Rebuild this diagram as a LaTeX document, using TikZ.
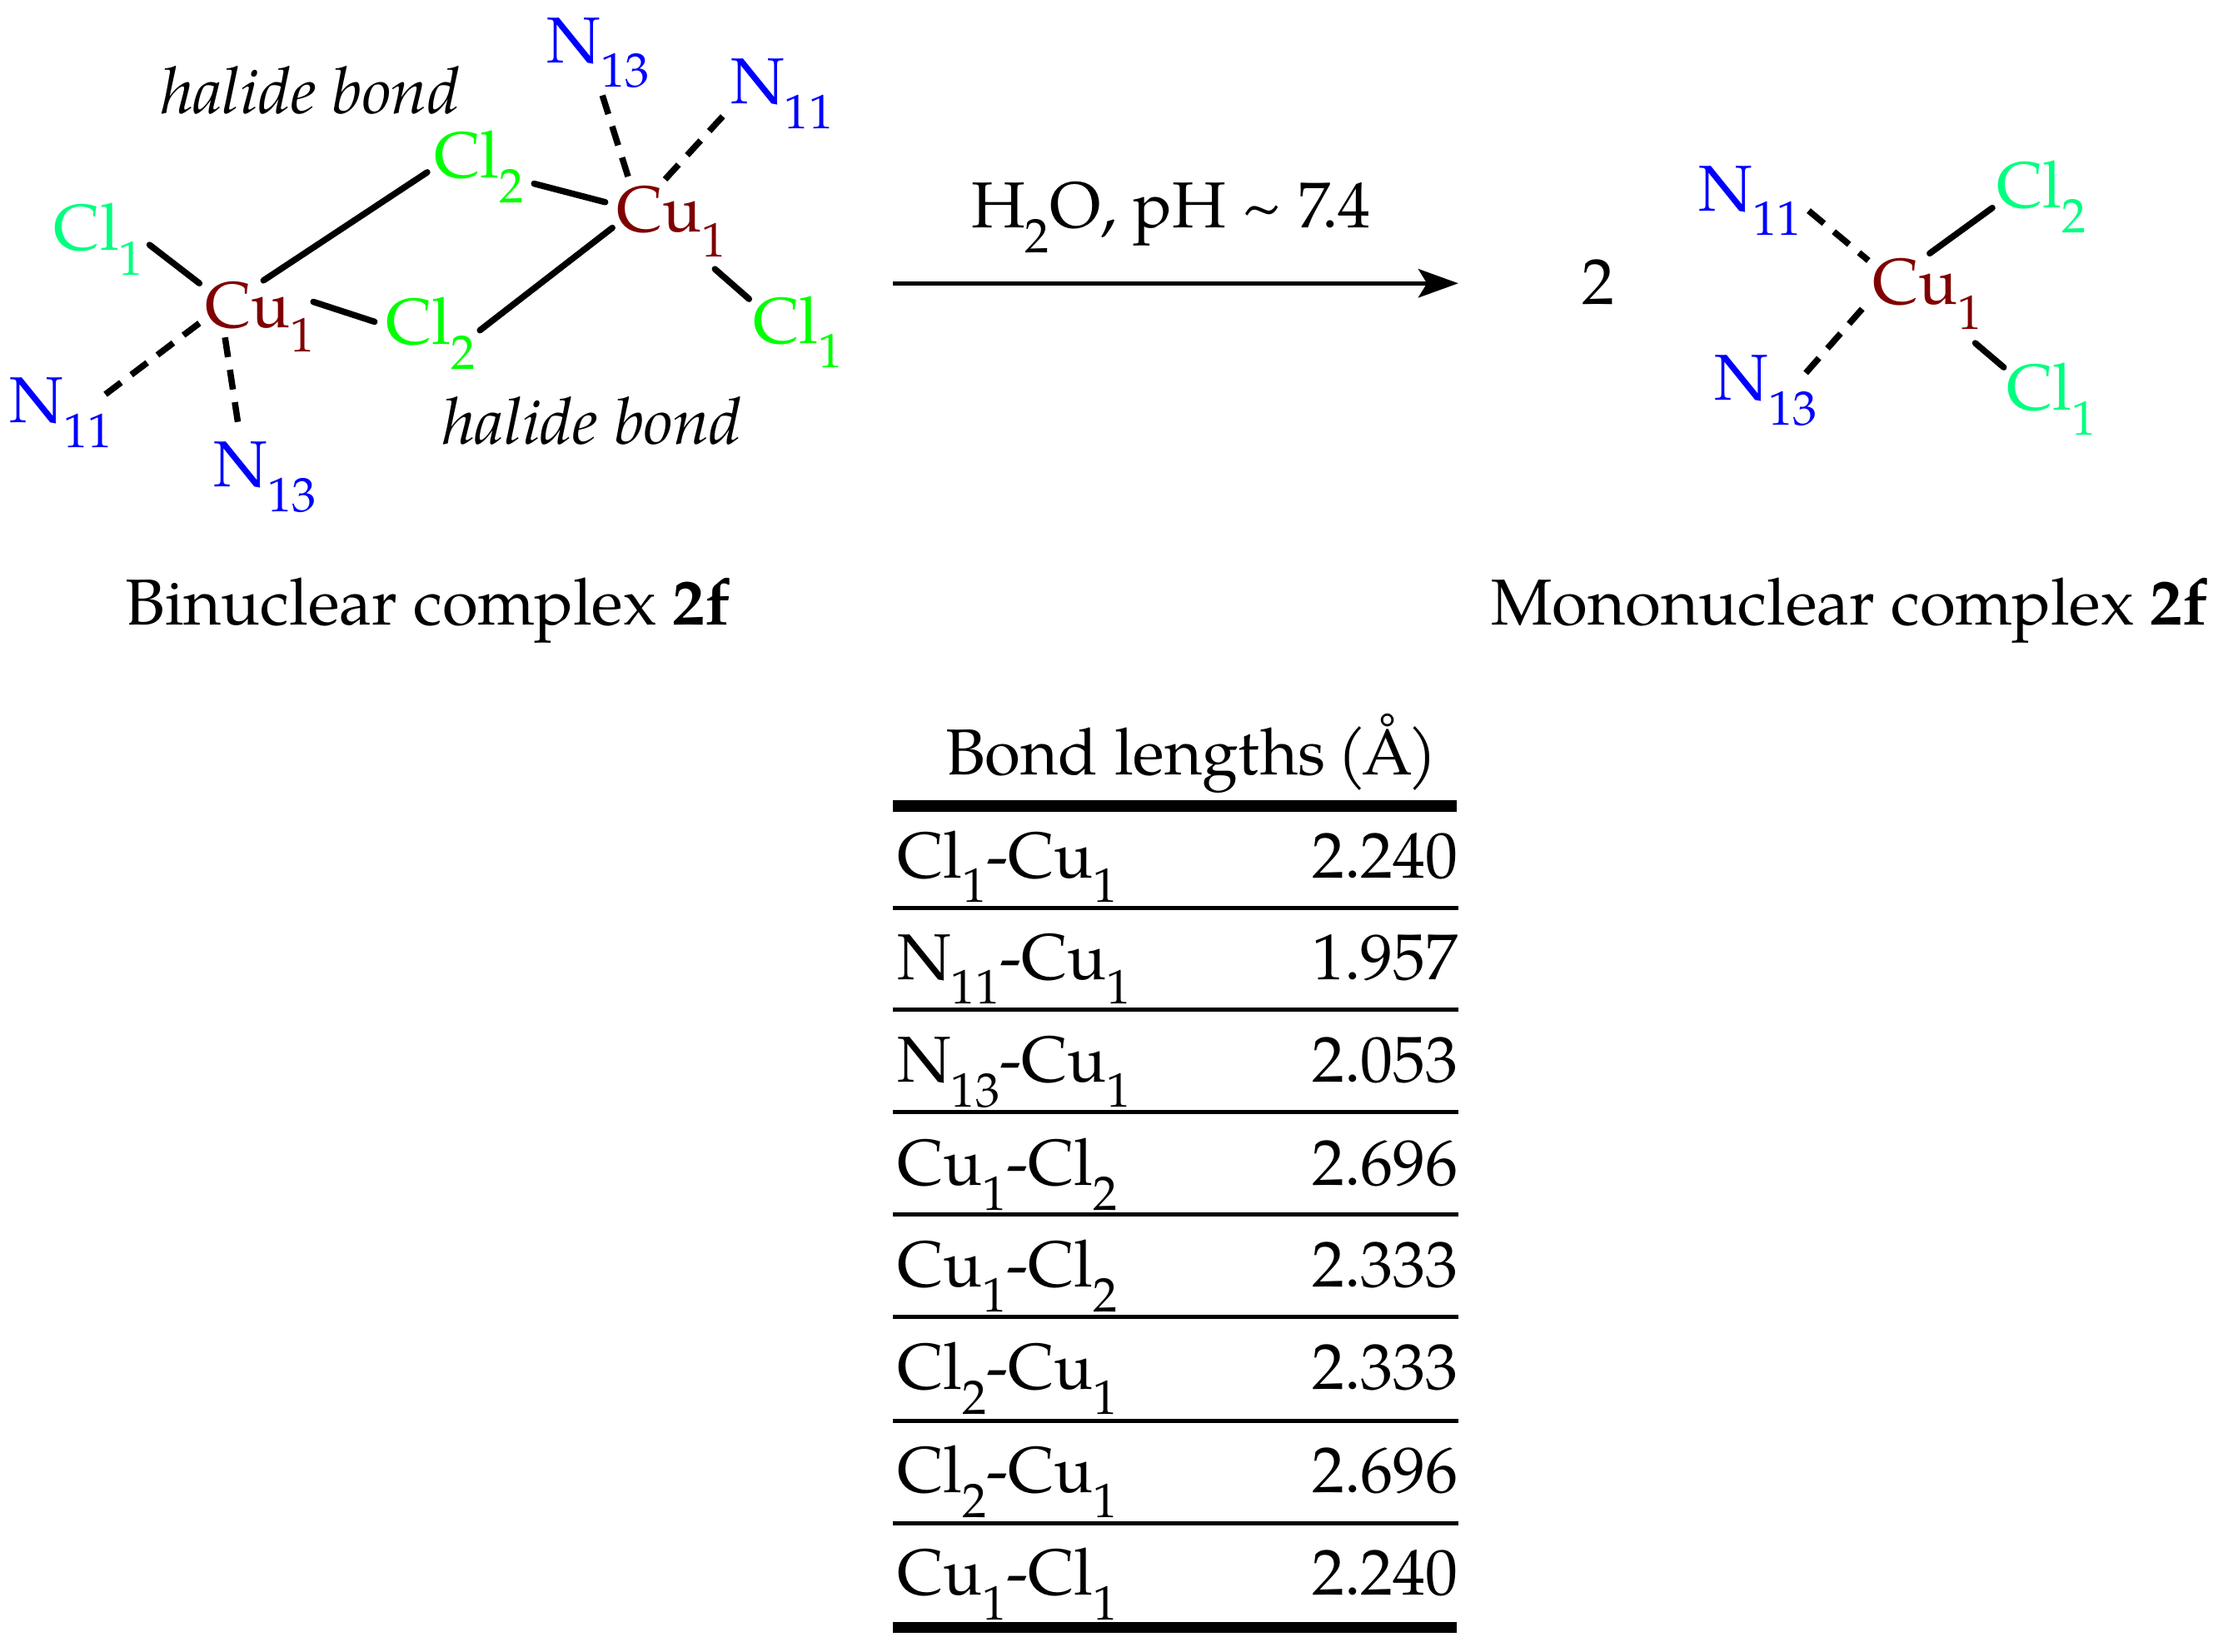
\documentclass[tikz,border=0pt]{standalone}
\usepackage{fontspec}
\setmainfont{TeX Gyre Pagella}
\usepackage{xcolor}
\definecolor{CopperRed}{HTML}{800000}
\definecolor{NitrogenBlue}{HTML}{0000FF}
\definecolor{ChlorineLime}{HTML}{00FF00}
\definecolor{ChlorineSpring}{HTML}{00FF80}
\usetikzlibrary{arrows.meta}
\newcommand{\lowsub}[1]{\raisebox{-0.38em}{\fontsize{17}{17}\selectfont #1}}
\tikzset{
  % Text styles
  atomlabel/.style={anchor=base west, inner sep=0pt, outer sep=0pt, font=\fontsize{22.8}{25}\selectfont},
  plainlabel/.style={anchor=base west, inner sep=0pt, outer sep=0pt, font=\fontsize{22.8}{25}\selectfont},
  copperatom/.style={atomlabel, text=CopperRed},
  nitrogenatom/.style={atomlabel, text=NitrogenBlue},
  limeatom/.style={atomlabel, text=ChlorineLime},
  springatom/.style={atomlabel, text=ChlorineSpring},
  valuelabel/.style={anchor=base east, inner sep=0pt, outer sep=0pt, font=\fontsize{22.8}{25}\selectfont},
  % Line styles
  bond/.style={line width=2.2pt, line cap=round},
  dashedbond/.style={bond, line cap=butt, dash pattern=on 7pt off 4.5pt},
  reactionarrow/.style={-{Stealth[length=14pt,width=10pt,inset=3pt]}, line width=1.6pt},
  thickrule/.style={line width=4pt},
  thinrule/.style={line width=1.4pt}
}
\begin{document}
\begin{tikzpicture}[x=0.5pt,y=-0.5pt]
  \useasboundingbox (0,0) rectangle (1568,1160.3);

  % Binuclear complex
  \node[copperatom] (culeft) at (144,230) {Cu\lowsub{1}};
  \node[copperatom] (curight) at (433,163) {Cu\lowsub{1}};
  \node[springatom] (clleft) at (38,176) {Cl\lowsub{1}};
  \node[limeatom] (clright) at (529,241) {Cl\lowsub{1}};
  \node[limeatom] (cltop) at (305,125) {Cl\lowsub{2}};
  \node[limeatom] (cllow) at (271,242) {Cl\lowsub{2}};
  \node[nitrogenatom] (nelevenleft) at (7,297) {N\lowsub{11}};
  \node[nitrogenatom] (nthirteenleft) at (150,342) {N\lowsub{13}};
  \node[nitrogenatom] (nelevenright) at (513,73) {N\lowsub{11}};
  \node[nitrogenatom] (nthirteenright) at (384,44) {N\lowsub{13}};
  \node[plainlabel] (halidetop) at (113,80) {\itshape halide bond};
  \node[plainlabel] (halidelow) at (311,312) {\itshape halide bond};
  \node[plainlabel] (binuclear) at (88,439) {Binuclear complex \textbf{2f}};

  % Bonds of the binuclear complex
  \draw[bond] ([shift={(67,-4)}]clleft.base west) -- ([shift={(-4,-31)}]culeft.base west);
  \draw[bond] ([shift={(41,-33)}]culeft.base west) -- ([shift={(-5,-4)}]cltop.base west);
  \draw[bond] ([shift={(70,4)}]cltop.base west) -- ([shift={(-8,-21)}]curight.base west);
  \draw[bond] ([shift={(-3,-3)}]curight.base west) -- ([shift={(66,-10)}]cllow.base west);
  \draw[bond] ([shift={(76,-18)}]culeft.base west) -- ([shift={(-8,-16)}]cllow.base west);
  \draw[bond] ([shift={(69,26)}]curight.base west) -- ([shift={(-3,-31)}]clright.base west);
  \draw[dashedbond] ([shift={(8,-39)}]curight.base west) -- ([shift={(39,23)}]nthirteenright.base west);
  \draw[dashedbond] ([shift={(34,-37)}]curight.base west) -- ([shift={(-3,6)}]nelevenright.base west);
  \draw[dashedbond] ([shift={(-4,-3)}]culeft.base west) -- ([shift={(67,-20)}]nelevenleft.base west);
  \draw[dashedbond] ([shift={(14,7)}]culeft.base west) -- ([shift={(18,-39)}]nthirteenleft.base west);

  % Reaction arrow
  \coordinate (arrowstart) at (627,199);
  \coordinate (arrowend) at (1024,199);
  \draw[reactionarrow] (arrowstart) -- (arrowend);
  \node[plainlabel] (conditions) at (682,160) {H\lowsub{2}O, pH \textasciitilde{} 7\kern-0.13em.4};
  \node[plainlabel] (twice) at (1111,214) {2};

  % Mononuclear complex
  \node[copperatom] (cumono) at (1315,214) {Cu\lowsub{1}};
  \node[nitrogenatom] (nelevenmono) at (1193,148) {N\lowsub{11}};
  \node[nitrogenatom] (nthirteenmono) at (1204,281) {N\lowsub{13}};
  \node[springatom] (cltwomono) at (1402,146) {Cl\lowsub{2}};
  \node[springatom] (clonemono) at (1409,288) {Cl\lowsub{1}};
  \node[plainlabel] (mononuclear) at (1047,439) {Mononuclear complex \textbf{2f}};
  \draw[dashedbond] ([shift={(77,0)}]nelevenmono.base west) -- ([shift={(-3,-31)}]cumono.base west);
  \draw[dashedbond] ([shift={(64,-19)}]nthirteenmono.base west) -- ([shift={(-3,-2)}]cumono.base west);
  \draw[bond] ([shift={(40,-36)}]cumono.base west) -- ([shift={(-3,0)}]cltwomono.base west);
  \draw[bond] ([shift={(72,27)}]cumono.base west) -- ([shift={(-2,-30)}]clonemono.base west);

  % Table
  \node[plainlabel] (tablehead) at (664,544) {Bond lengths \kern-0.08em(\kern-0.07emÅ\kern-0.07em)};
  \draw[thickrule] (627,566) -- (1023,566);
  \draw[thickrule] (627,1143) -- (1023,1143);
  \foreach \y in {638,709,781,853,925,998,1070}
    \draw[thinrule] (627,\y) -- (1024,\y);
  \foreach \name/\bondname/\bondvalue/\y in {
    a/Cl\lowsub{1}-Cu\lowsub{1}/2.240/616.5,
    b/N\lowsub{11}-Cu\lowsub{1}/1.957/688,
    c/N\lowsub{13}-Cu\lowsub{1}/2.053/760,
    d/Cu\lowsub{1}-Cl\lowsub{2}/2.696/832.5,
    e/Cu\lowsub{1}-Cl\lowsub{2}/2.333/904,
    f/Cl\lowsub{2}-Cu\lowsub{1}/2.333/976,
    g/Cl\lowsub{2}-Cu\lowsub{1}/2.696/1048.5,
    h/Cu\lowsub{1}-Cl\lowsub{1}/2.240/1120.5} {
    \node[plainlabel] (bond\name) at (630,\y) {\bondname};
    \node[valuelabel] (value\name) at (1024,\y) {\bondvalue};
  }
\end{tikzpicture}
\end{document}
